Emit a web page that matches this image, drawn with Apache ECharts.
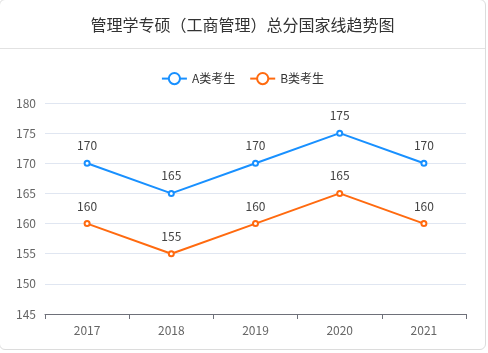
<!DOCTYPE html>
<html lang="zh-CN">
<head>
<meta charset="utf-8" />
<title>管理学专硕（工商管理）总分国家线趋势图</title>
<script src="https://cdn.jsdelivr.net/npm/echarts@6/dist/echarts.min.js"></script>
<style>
  html, body { margin: 0; padding: 0; background: #fff; }
  .card {
    position: absolute; left: -1px; top: -1px;
    width: 485px; height: 349px;
    border: 1px solid #dcdcdc; border-radius: 6px;
    overflow: hidden; background: #fff;
  }
  #chart { width: 485px; height: 349px; }
</style>
</head>
<body>
<div class="card"><div id="chart"></div></div>
<script>
  // 年份
  const years = ['2017', '2018', '2019', '2020', '2021'];
  // A类 / B类 分数
  const scoreA = [170, 165, 170, 175, 170];
  const scoreB = [160, 155, 160, 165, 160];
  const seriesNames = ['A类考生', 'B类考生'];

  const chart = echarts.init(document.getElementById('chart'));
  const font = '"Microsoft YaHei", "Noto Sans CJK SC", sans-serif';
  const opt = {
    textStyle: { fontFamily: font },
    title: {
      text: '管理学专硕（工商管理）总分国家线趋势图',
      left: 'center', top: 12,
      textStyle: { fontSize: 16, fontWeight: 'normal', color: '#333', fontFamily: font }
    },
    graphic: [{
      type: 'line',
      shape: { x1: 0, y1: 48.5, x2: 485, y2: 48.5 },
      style: { stroke: '#e2e2e2', lineWidth: 1 }
    }],
    legend: {
      top: 67, left: 'center',
      itemWidth: 25, itemHeight: 14, itemGap: 14,
      textStyle: { fontSize: 12, color: '#333' },
      data: seriesNames
    },
    grid: { left: 45, right: 19, top: 103, bottom: 35 },
    xAxis: {
      type: 'category',
      data: years,
      axisLine: { lineStyle: { color: '#6e7079' } },
      axisTick: { show: true },
      axisLabel: { color: '#666', fontSize: 12, margin: 10 }
    },
    yAxis: {
      type: 'value',
      min: 145, max: 180, interval: 5,
      axisLine: { show: false },
      axisTick: { show: false },
      axisLabel: { color: '#666', fontSize: 12, margin: 9 },
      splitLine: { lineStyle: { color: '#e0e6f1' } }
    },
    series: [{
      name: seriesNames[0],
      type: 'line',
      data: scoreA,
      symbol: 'emptyCircle', symbolSize: 5,
      itemStyle: { color: '#1890ff' },
      lineStyle: { width: 2 },
      label: { show: true, position: 'top', distance: 8, color: '#444', fontSize: 12 }
    }, {
      name: seriesNames[1],
      type: 'line',
      data: scoreB,
      symbol: 'emptyCircle', symbolSize: 5,
      itemStyle: { color: '#ff6a0f' },
      lineStyle: { width: 2 },
      label: { show: true, position: 'top', distance: 8, color: '#444', fontSize: 12 }
    }]
  };
  chart.setOption(opt);
  window.onresize = function () { chart.resize(); };
</script>
</body>
</html>
